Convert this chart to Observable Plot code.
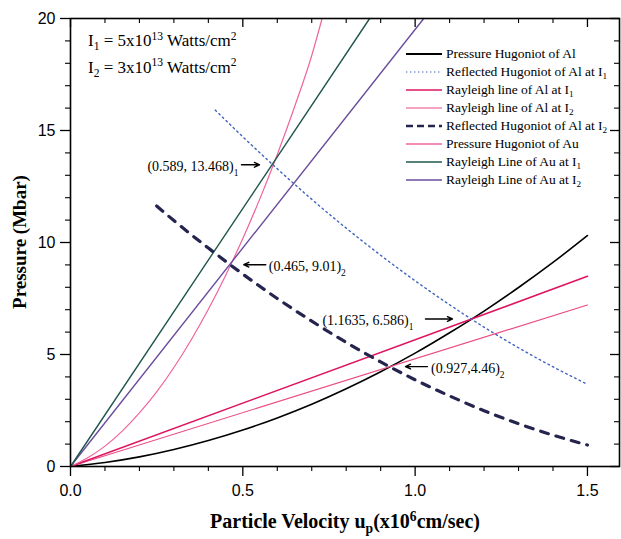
<!DOCTYPE html>
<html>
<head>
<meta charset="utf-8">
<script src="https://cdn.jsdelivr.net/npm/d3@7"></script>
<script src="https://cdn.jsdelivr.net/npm/@observablehq/plot@0.6"></script>
<style>
  html, body { margin: 0; padding: 0; background: #fff; }
  #wrap { position: relative; width: 621px; height: 539px; overflow: hidden; background: #fff; }
  #wrap svg.chart { position: absolute; left: 0; top: 0; }
  .serif { font-family: "Liberation Serif", "Times New Roman", serif; color: #000; }
  .ov { position: absolute; white-space: nowrap; }
  .lg { position: absolute; left: 405px; height: 18px; display: flex; align-items: center; font-size: 13.5px; letter-spacing: -0.05px; white-space: nowrap; }
  .lg svg { margin-right: 3px; flex: none; }
  .sb { position: relative; font-size: 0.68em; }
</style>
</head>
<body>
<div id="wrap"></div>
<script>
// ---------- data ----------
const alHugU = [0, 0.1, 0.2, 0.3, 0.4, 0.5, 0.6, 0.7, 0.8, 0.9, 1.0, 1.1, 1.2, 1.3, 1.4, 1.5];
const alHugP = [0, 0.18, 0.43, 0.76, 1.16, 1.63, 2.17, 2.78, 3.47, 4.23, 5.06, 5.97, 6.94, 7.99, 9.11, 10.31];

const refl1U = [0.42, 0.5, 0.6, 0.7, 0.8, 0.9, 1.0, 1.1, 1.2, 1.3, 1.4, 1.5];
const refl1P = [15.91, 14.72, 13.29, 11.93, 10.64, 9.43, 8.29, 7.22, 6.22, 5.30, 4.45, 3.67];

const rayAlI1U = [0, 1.5];
const rayAlI1P = [0, 8.49];
const rayAlI2U = [0, 1.5];
const rayAlI2P = [0, 7.21];

const refl2U = [0.25, 0.3, 0.4, 0.5, 0.6, 0.7, 0.8, 0.9, 1.0, 1.1, 1.2, 1.3, 1.4, 1.5];
const refl2P = [11.63, 10.98, 9.75, 8.59, 7.50, 6.49, 5.54, 4.67, 3.87, 3.15, 2.49, 1.91, 1.40, 0.96];

const auHugU = [0, 0.05, 0.1, 0.15, 0.2, 0.25, 0.3, 0.35, 0.4, 0.45, 0.5, 0.55, 0.6, 0.65, 0.7, 0.73];
const auHugP = [0, 0.39, 0.91, 1.58, 2.39, 3.33, 4.42, 5.65, 7.02, 8.53, 10.18, 11.97, 13.93, 16.05, 18.35, 20.0];

const rayAuI1U = [0, 0.868];
const rayAuI1P = [0, 20];
const rayAuI2U = [0, 1.025];
const rayAuI2P = [0, 20];

const annU = [0.589, 0.465, 1.1635, 0.927];
const annP = [13.468, 9.01, 6.586, 4.46];
const annText = ["(0.589, 13.468)_{1}", "(0.465, 9.01)_{2}", "(1.1635, 6.586)_{1}", "(0.927,4.46)_{2}"];

const xMajor = [0, 0.5, 1.0, 1.5];
const xMinor = [0.1, 0.2, 0.3, 0.4, 0.6, 0.7, 0.8, 0.9, 1.1, 1.2, 1.3, 1.4];
const yMajor = [0, 5, 10, 15, 20];
const yMinor = [1, 2, 3, 4, 6, 7, 8, 9, 11, 12, 13, 14, 16, 17, 18, 19];

const legendNames = [
  "Pressure Hugoniot of Al",
  "Reflected Hugoniot of Al at I_{1}",
  "Rayleigh line of Al at I_{1}",
  "Rayleigh line of Al at I_{2}",
  "Reflected Hugoniot of Al at I_{2}",
  "Pressure Hugoniot of Au",
  "Rayleigh Line of Au at I_{1}",
  "Rayleigh Line of Au at I_{2}"
];

// ---------- styles ----------
const series = [
  {u: alHugU, p: alHugP, stroke: "#000000", w: 1.6, dash: null, lw: 2},
  {u: refl1U, p: refl1P, stroke: "#3f63c0", w: 1.4, dash: "1.6,3.4", lw: 1.2},
  {u: rayAlI1U, p: rayAlI1P, stroke: "#de1460", w: 1.6, dash: null, lw: 1.3},
  {u: rayAlI2U, p: rayAlI2P, stroke: "#ea4a84", w: 1.1, dash: null, lw: 1.1},
  {u: refl2U, p: refl2P, stroke: "#25244f", w: 3.2, dash: "8,8", lw: 2.6},
  {u: auHugU, p: auHugP, stroke: "#f0649c", w: 1.2, dash: null, lw: 1.3},
  {u: rayAuI1U, p: rayAuI1P, stroke: "#22574f", w: 1.4, dash: null, lw: 1.3},
  {u: rayAuI2U, p: rayAuI2P, stroke: "#6b4d9c", w: 1.4, dash: null, lw: 1.3}
];
const drawOrder = [0, 3, 2, 5, 7, 6, 1, 4];

const W = 621, H = 539, mL = 70, mR = 2, mT = 18, mB = 73;
const innerW = W - mL - mR, innerH = H - mT - mB;
const xMax = 1.593;
const pxU = xMax / innerW;

// annotation layout: text dx, anchor, arrow tail px, arrow head px
const annLayout = [
  {dx: -35, anchor: "end", tail: -32, head: -14},
  {dx: 38, anchor: "start", tail: 35, head: 13},
  {dx: -58, anchor: "end", tail: -46, head: -19},
  {dx: 41, anchor: "start", tail: 37.5, head: 15.5}
];

const lineMarks = drawOrder.map(i => {
  const s = series[i];
  const rows = s.u.map((u, k) => ({u, p: s.p[k]}));
  return Plot.line(rows, {x: "u", y: "p", stroke: s.stroke, strokeWidth: s.w,
    strokeDasharray: s.dash || undefined, curve: "monotone-x"});
});

const annMarks = [];
annU.forEach((u, i) => {
  const L = annLayout[i];
  const row = [{u, p: annP[i], t: annText[i]}];
  annMarks.push(Plot.arrow(row, {
    x1: d => d.u + L.tail * pxU, y1: "p",
    x2: d => d.u + L.head * pxU, y2: "p",
    stroke: "#000", strokeWidth: 1.4, headLength: 6, headAngle: 50
  }));
  annMarks.push(Plot.text(row, {
    x: "u", y: "p", text: "t", dx: L.dx, dy: 2, textAnchor: L.anchor,
    fontFamily: "'Liberation Serif', 'Times New Roman', serif", fontSize: 14, fill: "#000"
  }));
});

const chart = Plot.plot({
  width: W, height: H,
  marginLeft: mL, marginRight: mR, marginTop: mT, marginBottom: mB,
  x: {domain: [0, xMax]},
  y: {domain: [0, 20]},
  style: {fontFamily: "'Liberation Sans', Arial, sans-serif", fontSize: "16px", color: "#000", background: "transparent", overflow: "visible"},
  marks: [
    ...lineMarks,
    ...annMarks,
    Plot.frame({stroke: "#000", strokeWidth: 1.6}),
    Plot.ruleX(xMajor, {insetBottom: innerH - 9, stroke: "#000", strokeWidth: 1.3}),
    Plot.ruleX(xMinor, {insetBottom: innerH - 5, stroke: "#000", strokeWidth: 1.1}),
    Plot.ruleY(yMajor, {insetLeft: innerW - 9, stroke: "#000", strokeWidth: 1.3}),
    Plot.ruleY(yMinor, {insetLeft: innerW - 5, stroke: "#000", strokeWidth: 1.1}),
    Plot.axisX(xMajor, {anchor: "bottom", tickSize: 10, tickPadding: 8, tickFormat: d3.format(".1f"), label: null, strokeWidth: 1.3, fontSize: 16}),
    Plot.axisX(xMinor, {anchor: "bottom", tickSize: 5, tickFormat: () => "", label: null, strokeWidth: 1.1}),
    Plot.axisY(yMajor, {anchor: "left", tickSize: 10, tickPadding: 5, tickFormat: d3.format("d"), label: null, strokeWidth: 1.3, fontSize: 16}),
    Plot.axisY(yMinor, {anchor: "left", tickSize: 5, tickFormat: () => "", label: null, strokeWidth: 1.1})
  ]
});
chart.classList.add("chart");
const wrap = document.getElementById("wrap");
wrap.appendChild(chart);

// rich text: _{..} subscript, ^{..} superscript inside svg texts
const NS = "http://www.w3.org/2000/svg";
chart.querySelectorAll("text").forEach(t => {
  if (t.children.length) return;
  const s = t.textContent;
  if (!/[_^]\{/.test(s)) return;
  const base = parseFloat(getComputedStyle(t).fontSize) || 14;
  t.textContent = "";
  const re = /([_^])\{([^}]*)\}/g;
  let last = 0, m, cur = 0;
  const add = (str, shift, small) => {
    if (!str) return;
    const ts = document.createElementNS(NS, "tspan");
    ts.textContent = str;
    const d = shift - cur;
    if (d) ts.setAttribute("dy", d);
    if (small) ts.setAttribute("font-size", base * 0.68);
    cur = shift;
    t.appendChild(ts);
  };
  while ((m = re.exec(s))) {
    add(s.slice(last, m.index), 0, false);
    add(m[2], m[1] === "_" ? base * 0.32 : -base * 0.4, true);
    last = re.lastIndex;
  }
  add(s.slice(last), 0, false);
});

// html rich text helper
function rich(str) {
  return str.replace(/_\{([^}]*)\}/g, '<span class="sb" style="top:0.35em">$1</span>')
            .replace(/\^\{([^}]*)\}/g, '<span class="sb" style="top:-0.55em">$1</span>');
}

// intensity notes
const notes = ["I_{1} = 5x10^{13} Watts/cm^{2}", "I_{2} = 3x10^{13} Watts/cm^{2}"];
const noteTops = [32, 58.5];
notes.forEach((n, i) => {
  const d = document.createElement("div");
  d.className = "ov serif";
  d.style.cssText = `left:88px; top:${noteTops[i]}px; font-size:17px; line-height:17px;`;
  d.innerHTML = rich(n);
  wrap.appendChild(d);
});

// legend
legendNames.forEach((name, i) => {
  const s = series[i];
  const row = document.createElement("div");
  row.className = "lg serif";
  row.style.top = (54.3 + i * 17.9 - 9) + "px";
  row.innerHTML = `<svg width="38" height="18"><line x1="1" x2="37" y1="9" y2="9" stroke="${s.stroke}" stroke-width="${s.lw}" ${s.dash ? `stroke-dasharray="${i === 4 ? '7,4' : '1.4,2.6'}"` : ""}/></svg><span>${rich(name)}</span>`;
  wrap.appendChild(row);
});

// axis titles
const xt = document.createElement("div");
xt.className = "ov serif";
xt.style.cssText = "left:345px; top:511px; transform:translateX(-50%); font-size:20px; font-weight:bold; line-height:20px;";
xt.innerHTML = rich("Particle Velocity u_{p}(x10^{6}cm/sec)");
wrap.appendChild(xt);

const yt = document.createElement("div");
yt.className = "ov serif";
yt.style.cssText = "left:19px; top:242px; transform:translate(-50%,-50%) rotate(-90deg); font-size:19px; font-weight:bold; line-height:19px;";
yt.textContent = "Pressure (Mbar)";
wrap.appendChild(yt);
</script>
</body>
</html>
